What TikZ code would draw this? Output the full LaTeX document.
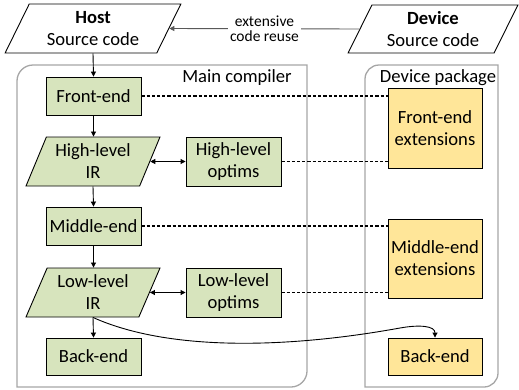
\documentclass[tikz,border=0pt]{standalone}
\usepackage{fontspec}
\setmainfont{Carlito}
\usetikzlibrary{shapes.geometric,arrows.meta}
\definecolor{grn}{HTML}{D7E4BD}
\definecolor{org}{HTML}{FFE699}
\definecolor{framec}{HTML}{A6A6A6}
\definecolor{reusec}{HTML}{595959}
\begin{document}
\begin{tikzpicture}[x=1pt,y=-1pt,
  font=\fontsize{18.6}{22}\selectfont,
  >={Triangle[length=5pt,width=5pt]},
  gbox/.style={draw=black, fill=grn, line width=0.9pt, minimum width=95pt, inner sep=0pt, align=center},
  obox/.style={draw=black, fill=org, line width=0.9pt, minimum width=94pt, inner sep=0pt, align=center},
  para/.style={trapezium, trapezium stretches=true, draw=black, line width=0.9pt, inner sep=0pt, align=center},
  arr/.style={->, line width=0.9pt, black},
  darr/.style={<->, line width=0.9pt, black},
  dotline/.style={line width=1.3pt, dash pattern=on 3.2pt off 2pt},
  framebox/.style={draw=framec, line width=1.3pt},
  lbl/.style={inner sep=0pt, align=center}
]
\useasboundingbox (0,0) rectangle (519,389);

% frames
\draw[framebox] (17,387) -- (17,81) .. controls (17,72.2) and (24.2,65) .. (33,65)
  -- (307,65) -- (307,371) .. controls (307,379.8) and (299.8,387) .. (291,387) -- cycle;
\draw[framebox] (365,387) -- (365,79) .. controls (365,71.3) and (371.3,65) .. (379,65)
  -- (498,65) -- (498,373) .. controls (498,380.7) and (491.7,387) .. (484,387) -- cycle;

\node[lbl] (mc) at (237,78) {Main compiler};
\node[lbl] (dp) at (438,78) {Device package};

% source code
\node[para, fill=white, trapezium left angle=63, trapezium right angle=117,
  minimum width=176pt, minimum height=49pt] (host) at (93,28.5) {\textbf{Host}\\Source code};
\node[para, fill=white, trapezium left angle=63, trapezium right angle=117,
  minimum width=170pt, minimum height=48pt] (dev) at (433,29) {\textbf{Device}\\Source code};

% main compiler
\node[gbox, minimum height=38pt] (fe) at (93.5,96) {Front-end};
\node[para, fill=grn, trapezium left angle=64.8, trapezium right angle=115.2,
  minimum width=134pt, minimum height=49pt] (hlir) at (93,161.5) {High-level\\IR};
\node[gbox, minimum height=49pt] (hlo) at (233.5,161.5) {High-level\\optims};
\node[gbox, minimum height=38pt] (me) at (93.5,226) {Middle-end};
\node[para, fill=grn, trapezium left angle=64.8, trapezium right angle=115.2,
  minimum width=134pt, minimum height=49pt] (llir) at (93,292.5) {Low-level\\IR};
\node[gbox, minimum height=49pt] (llo) at (233.5,292.5) {Low-level\\optims};
\node[gbox, minimum height=37pt] (be) at (93.5,356.5) {Back-end};

% device package
\node[obox, minimum height=80pt] (fex) at (435,128) {Front-end\\extensions};
\node[obox, minimum height=79pt] (mex) at (435,258.5) {Middle-end\\extensions};
\node[obox, minimum height=37pt] (obe) at (435,356.5) {Back-end};

% reuse arrow
\draw[->, line width=0.9pt, reusec] (dev.west) -- node[midway, fill=white, inner sep=2pt, align=center,
  font=\fontsize{15.5}{15.5}\selectfont, text=black] (reuse) {extensive\\code reuse} (host.east);

% flow arrows
\draw[arr] (host.south -| host.center) -- (fe.north);
\draw[arr] (fe.south) -- (fe.south |- hlir.north);
\draw[arr] (hlir.south -| hlir.center) -- (me.north);
\draw[arr] (me.south) -- (me.south |- llir.north);
\draw[arr] (llir.south -| llir.center) -- (be.north);
\draw[darr] (hlir.east) -- (hlo.west);
\draw[darr] (llir.east) -- (llo.west);

% dotted links
\draw[dotline] (fe.east) -- (fe.east -| fex.west);
\draw[dotline] (hlo.east) -- (hlo.east -| fex.west);
\draw[dotline] (me.east) -- (me.east -| mex.west);
\draw[dotline] (llo.east) -- (llo.east -| mex.west);

% curve to device back-end
\draw[arr] (llir.south -| llir.center) .. controls (170,352) and (290,348) .. (400,328)
  .. controls (420,324.4) and (435,326) .. (obe.north);
\end{tikzpicture}
\end{document}
